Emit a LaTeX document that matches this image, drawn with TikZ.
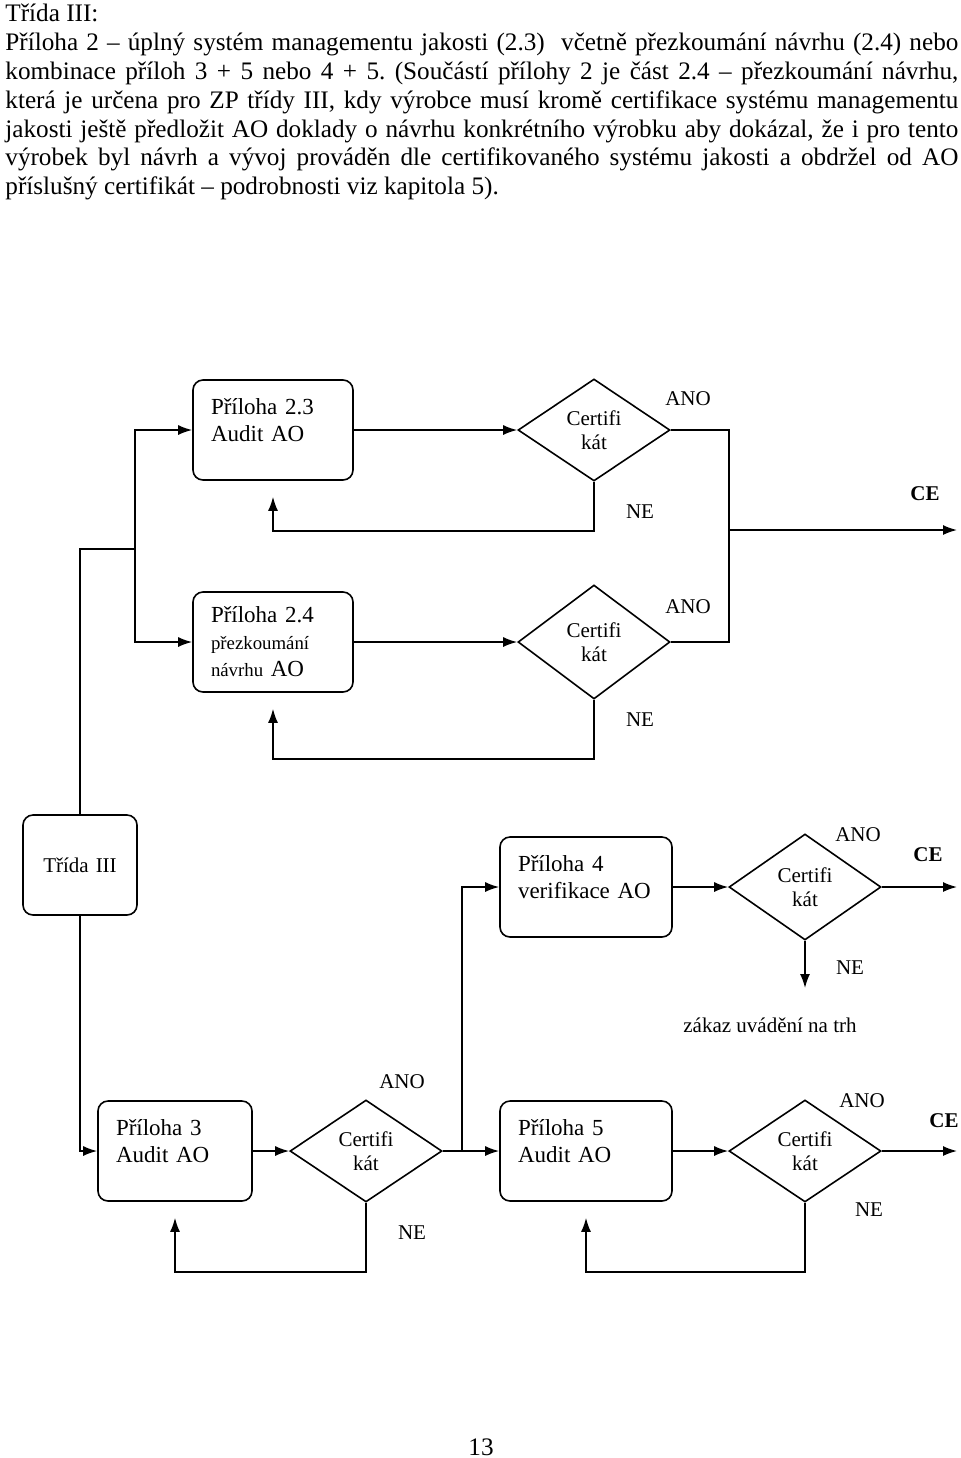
\documentclass[tikz,border=0pt]{standalone}
\usepackage{fontspec}
\setmainfont{Liberation Serif}
\usetikzlibrary{arrows.meta,shapes.geometric,positioning}
\tikzstyle{postup} = [rectangle, rounded corners=5pt, draw=black, thick, minimum height=50pt, inner xsep=9pt, align=left, font=\fontsize{11.5}{13.5}\selectfont]
\tikzstyle{postupvys} = [postup, text depth=23.5pt]
\tikzstyle{rozhod} = [diamond, draw=black, thick, minimum width=76pt, minimum height=51pt, inner sep=0pt, align=center, font=\fontsize{10.5}{12}\selectfont]
\tikzstyle{popisek} = [inner sep=0pt, font=\fontsize{10.5}{12}\selectfont]
\tikzstyle{arrow} = [thick,->,>={Latex[length=7pt,width=5pt]}]
\tikzstyle{cara} = [thick]

\begin{document}
\begin{tikzpicture}[x=0.5pt,y=-0.5pt]
\useasboundingbox (0,0) rectangle (960,1458);
\node (popis) [anchor=north west, inner sep=0pt, text width=476.5pt, align=justify, font=\fontsize{12.6}{14.4}\selectfont] at (5,4) {\frenchspacing Třída III:\\
Příloha 2 – úplný systém managementu jakosti (2.3) \ včetně přezkoumání návrhu (2.4) nebo\linebreak
kombinace příloh 3 + 5 nebo 4 + 5. (Součástí přílohy 2 je část 2.4 – přezkoumání návrhu,\linebreak
která je určena pro ZP třídy III, kdy výrobce musí kromě certifikace systému managementu\linebreak
jakosti ještě předložit AO doklady o návrhu konkrétního výrobku aby dokázal, že i pro tento\linebreak
výrobek byl návrh a vývoj prováděn dle certifikovaného systému jakosti a obdržel od AO\linebreak
příslušný certifikát – podrobnosti viz kapitola 5).};

% uzly
\node (box23) [postupvys, text width=62pt] at (273,430) {Příloha 2.3\\Audit AO};
\node (cert1) [rozhod] at (594,430) {Certifi\\kát};
\node (box24) [postup, text width=62pt] at (273,642) {Příloha 2.4\\{\fontsize{9.4}{11}\selectfont přezkoumání}\\{\fontsize{9.4}{11}\selectfont návrhu} AO};
\node (cert2) [rozhod, minimum height=57pt] at (594,642) {Certifi\\kát};
\node (trida) [postup, text width=39pt, align=center, font=\fontsize{10.5}{12}\selectfont] at (80,865) {Třída III};
\node (box4) [postupvys, text width=68pt] at (586,887) {Příloha 4\\verifikace AO};
\node (cert4) [rozhod, minimum height=53pt] at (805,887) {Certifi\\kát};
\node (box3) [postupvys, text width=59pt] at (175,1151) {Příloha 3\\Audit AO};
\node (cert3) [rozhod] at (366,1151) {Certifi\\kát};
\node (box5) [postupvys, text width=68pt] at (586,1151) {Příloha 5\\Audit AO};
\node (cert5) [rozhod] at (805,1151) {Certifi\\kát};

% body spojnic
\coordinate (j2) at (135,549);
\coordinate (spoj1) at (729,530);
\coordinate (ce1) at (957,530);
\coordinate (spoj2) at (462,1151);
\coordinate (ce2) at (957,887);
\coordinate (ce3) at (957,1151);
\coordinate (zakaz) at (805,988);

% popisky
\node (ano1) [popisek] at (688,399) {ANO};
\node (ne1) [popisek] at (640,512) {NE};
\node (cetext1) [popisek, font=\fontsize{10.5}{12}\selectfont\bfseries] at (925,494) {CE};
\node (ano2) [popisek] at (688,607) {ANO};
\node (ne2) [popisek] at (640,720) {NE};
\node (ano4) [popisek] at (858,835) {ANO};
\node (cetext2) [popisek, font=\fontsize{10.5}{12}\selectfont\bfseries] at (928,855) {CE};
\node (ne4) [popisek] at (850,968) {NE};
\node (zakaztext) [popisek] at (770,1025) {zákaz uvádění na trh};
\node (ano3) [popisek] at (402,1082) {ANO};
\node (ne3) [popisek] at (412,1233) {NE};
\node (ano5) [popisek] at (862,1101) {ANO};
\node (cetext3) [popisek, font=\fontsize{10.5}{12}\selectfont\bfseries] at (944,1121) {CE};
\node (ne5) [popisek] at (869,1210) {NE};
\node (strana) [inner sep=0pt, font=\fontsize{12.6}{14}\selectfont] at (481,1447) {13};

% spojnice
\draw [cara] (trida.north) |- (j2);
\draw [arrow] (j2) |- (box23);
\draw [arrow] (j2) |- (box24);
\draw [arrow] (box23) -- (cert1);
\draw [arrow] (box24) -- (cert2);
\draw [arrow,shorten >=8pt] (cert1.south) -- ++(0,49) -| (box23.south);
\draw [arrow,shorten >=8pt] (cert2.south) -- ++(0,59) -| (box24.south);
\draw [cara] (cert1.east) -| (spoj1);
\draw [cara] (cert2.east) -| (spoj1);
\draw [arrow] (spoj1) -- (ce1);
\draw [arrow] (trida.south) |- (box3);
\draw [arrow] (box3) -- (cert3);
\draw [cara] (cert3.east) -- (spoj2);
\draw [arrow] (spoj2) -- (box5);
\draw [arrow] (spoj2) |- (box4);
\draw [arrow,shorten >=8pt] (cert3.south) -- ++(0,69) -| (box3.south);
\draw [arrow] (box4) -- (cert4);
\draw [arrow] (cert4) -- (ce2);
\draw [arrow] (cert4.south) -- (zakaz);
\draw [arrow] (box5) -- (cert5);
\draw [arrow] (cert5) -- (ce3);
\draw [arrow,shorten >=8pt] (cert5.south) -- ++(0,69) -| (box5.south);
\end{tikzpicture}
\end{document}
